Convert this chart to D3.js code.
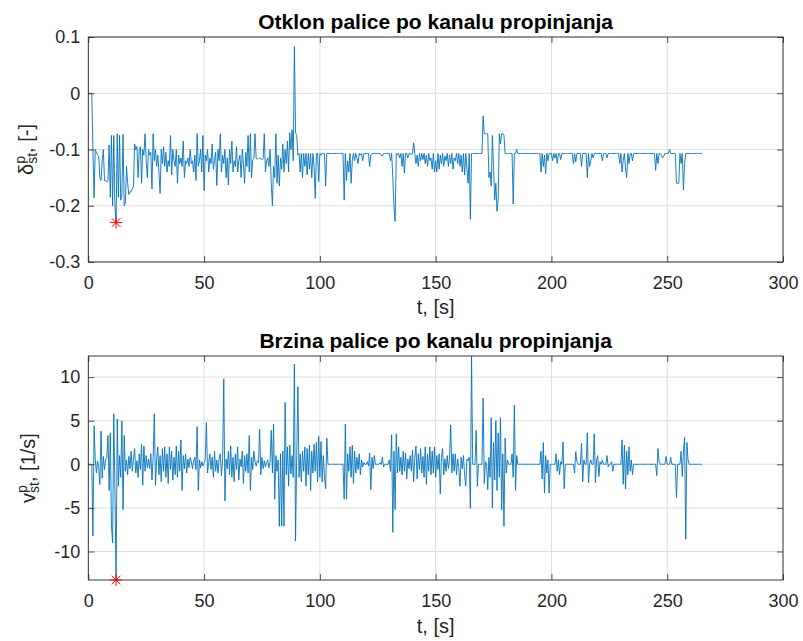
<!DOCTYPE html>
<html><head><meta charset="utf-8">
<script src="https://cdn.jsdelivr.net/npm/d3@7"></script>
<style>body{margin:0;background:#fff} svg{display:block}</style>
</head><body><svg id="c" width="803" height="641"></svg>
<script>
// ---- data (sample period 0.5 s, t = 0 ... 265 s) ----
const sampleStep = 0.5;
const deflection = [
 0,0,0,0,-0.1,-0.186,-0.1,-0.105,-0.11,-0.112,
 -0.15,-0.155,-0.12,-0.1,-0.155,-0.155,-0.158,-0.155,-0.092,-0.185,
 -0.075,-0.2,-0.075,-0.2,-0.23,-0.072,-0.185,-0.075,-0.19,-0.18,
 -0.073,-0.2,-0.195,-0.13,-0.16,-0.18,-0.175,-0.175,-0.17,-0.165,
 -0.09,-0.1,-0.095,-0.15,-0.1,-0.095,-0.16,-0.1,-0.11,-0.072,
 -0.12,-0.15,-0.1,-0.11,-0.105,-0.17,-0.072,-0.12,-0.1,-0.13,
 -0.11,-0.14,-0.178,-0.1,-0.125,-0.095,-0.13,-0.105,-0.14,-0.12,
 -0.13,-0.075,-0.145,-0.1,-0.12,-0.13,-0.1,-0.16,-0.11,-0.125,
 -0.115,-0.13,-0.085,-0.15,-0.12,-0.125,-0.115,-0.13,-0.1,-0.125,
 -0.12,-0.14,-0.11,-0.155,-0.072,-0.13,-0.12,-0.1,-0.14,-0.075,
 -0.173,-0.11,-0.12,-0.1,-0.14,-0.115,-0.125,-0.09,-0.135,-0.12,
 -0.105,-0.164,-0.1,-0.12,-0.072,-0.14,-0.11,-0.125,-0.1,-0.15,
 -0.115,-0.163,-0.1,-0.125,-0.085,-0.14,-0.12,-0.13,-0.095,-0.14,
 -0.12,-0.11,-0.15,-0.1,-0.125,-0.16,-0.105,-0.13,-0.075,-0.14,
 -0.072,-0.15,-0.118,-0.116,-0.072,-0.116,-0.117,-0.116,-0.115,-0.116,
 -0.118,-0.116,-0.072,-0.14,-0.12,-0.115,-0.13,-0.1,-0.16,-0.2,
 -0.13,-0.15,-0.072,-0.16,-0.11,-0.165,-0.115,-0.135,-0.09,-0.14,
 -0.1,-0.125,-0.085,-0.14,-0.07,-0.1,-0.065,-0.12,0.083,-0.07,
 -0.075,-0.11,-0.107,-0.14,-0.107,-0.15,-0.107,-0.13,-0.107,-0.145,
 -0.107,-0.135,-0.107,-0.15,-0.107,-0.13,-0.187,-0.107,-0.107,-0.157,
 -0.107,-0.11,-0.107,-0.107,-0.107,-0.165,-0.107,-0.107,-0.107,-0.107,
 -0.107,-0.107,-0.107,-0.107,-0.107,-0.107,-0.107,-0.107,-0.107,-0.107,
 -0.107,-0.19,-0.107,-0.155,-0.12,-0.14,-0.107,-0.16,-0.12,-0.107,
 -0.12,-0.107,-0.115,-0.125,-0.107,-0.11,-0.107,-0.12,-0.107,-0.107,
 -0.107,-0.107,-0.107,-0.13,-0.11,-0.107,-0.107,-0.107,-0.107,-0.107,
 -0.107,-0.107,-0.107,-0.11,-0.112,-0.107,-0.107,-0.107,-0.107,-0.107,
 -0.107,-0.12,-0.107,-0.15,-0.2,-0.228,-0.107,-0.11,-0.107,-0.115,
 -0.107,-0.13,-0.107,-0.142,-0.107,-0.107,-0.115,-0.107,-0.107,-0.11,
 -0.107,-0.088,-0.107,-0.125,-0.11,-0.13,-0.107,-0.12,-0.107,-0.118,
 -0.107,-0.125,-0.11,-0.13,-0.107,-0.12,-0.115,-0.135,-0.107,-0.14,
 -0.12,-0.14,-0.107,-0.135,-0.11,-0.125,-0.107,-0.13,-0.112,-0.12,
 -0.107,-0.13,-0.11,-0.125,-0.107,-0.135,-0.115,-0.12,-0.107,-0.125,
 -0.107,-0.13,-0.11,-0.14,-0.107,-0.145,-0.107,-0.135,-0.16,-0.107,
 -0.224,-0.107,-0.107,-0.107,-0.107,-0.107,-0.107,-0.107,-0.107,-0.107,
 -0.107,-0.04,-0.072,-0.072,-0.072,-0.072,-0.15,-0.14,-0.165,-0.075,
 -0.13,-0.19,-0.16,-0.21,-0.19,-0.072,-0.09,-0.072,-0.072,-0.075,
 -0.107,-0.107,-0.107,-0.107,-0.107,-0.107,-0.107,-0.197,-0.107,-0.107,
 -0.1,-0.107,-0.107,-0.107,-0.107,-0.107,-0.107,-0.107,-0.107,-0.107,
 -0.107,-0.107,-0.107,-0.107,-0.107,-0.107,-0.107,-0.107,-0.107,-0.107,
 -0.107,-0.14,-0.107,-0.13,-0.11,-0.143,-0.107,-0.12,-0.107,-0.107,
 -0.107,-0.12,-0.107,-0.115,-0.107,-0.125,-0.107,-0.107,-0.118,-0.107,
 -0.107,-0.107,-0.107,-0.107,-0.107,-0.107,-0.107,-0.107,-0.107,-0.125,
 -0.107,-0.122,-0.107,-0.107,-0.107,-0.107,-0.13,-0.107,-0.107,-0.107,
 -0.107,-0.15,-0.107,-0.13,-0.12,-0.107,-0.115,-0.107,-0.107,-0.107,
 -0.107,-0.107,-0.107,-0.107,-0.12,-0.107,-0.107,-0.107,-0.115,-0.107,
 -0.107,-0.107,-0.107,-0.107,-0.107,-0.107,-0.107,-0.107,-0.107,-0.125,
 -0.107,-0.14,-0.12,-0.107,-0.135,-0.15,-0.107,-0.125,-0.107,-0.107,
 -0.12,-0.107,-0.107,-0.107,-0.107,-0.107,-0.107,-0.107,-0.107,-0.107,
 -0.107,-0.107,-0.107,-0.107,-0.107,-0.107,-0.107,-0.107,-0.107,-0.107,
 -0.137,-0.107,-0.125,-0.107,-0.107,-0.11,-0.115,-0.112,-0.107,-0.107,
 -0.107,-0.107,-0.1,-0.107,-0.107,-0.107,-0.107,-0.107,-0.16,-0.16,
 -0.16,-0.107,-0.125,-0.107,-0.172,-0.125,-0.107,-0.107,-0.107,-0.107,
 -0.107,-0.107,-0.107,-0.107,-0.107,-0.107,-0.107,-0.107,-0.107,-0.107,
 -0.107
];
const rate = [
 0,0,0,0,-8.2,4.4,0.6,-1.0,0.4,-0.5,
 -2.3,3.8,-1.6,0.9,-0.6,0.5,0.8,3.3,-3.0,3.6,
 -7.1,-9.0,5.8,-3.0,-13.27,5.2,-2.5,1.0,-1.5,5.0,
 -5.2,3.3,-0.8,0.5,-1.2,0.9,-0.5,1.5,-0.8,0.6,
 1.8,-1.0,0.4,-1.5,1.2,-0.6,2.3,-2.4,2.1,-0.8,
 1.0,-0.4,0.6,-0.5,1.2,-1.8,0.8,5.8,-2.4,0.5,
 2.0,-1.2,1.0,-2.0,1.8,-0.8,2.0,-1.5,1.2,-2.2,
 2.0,-0.6,1.5,-1.8,0.8,-1.2,2.1,-1.5,1.5,-0.8,
 2.8,-3.0,1.0,-0.5,1.2,-1.0,0.6,-0.4,0.8,0.3,
 -0.5,0.4,0.8,-0.6,4.3,-3.0,0.5,-0.4,0.3,-0.2,
 0.2,0.5,4.8,-1.0,0.2,1.2,-0.6,0.8,-1.5,1.5,
 -0.8,0.5,-1.0,0.7,1.2,-1.3,0.5,9.8,-4.2,0.6,
 -0.5,1.5,-1.2,2.1,-1.5,0.8,-2.0,1.2,-0.6,2.0,
 -1.8,0.6,-0.3,1.5,-2.2,1.0,-0.8,1.2,-1.0,3.3,
 -3.0,0.8,-0.6,1.5,0.3,-0.2,0.4,0.2,4.0,-1.2,
 0.8,-0.5,0.4,-0.3,0.2,0.5,-0.4,0.3,3.9,-1.0,
 4.6,-4.0,1.0,-0.8,0.5,-7.1,1.2,-7.1,1.5,-7.1,
 7.1,-1.2,2.0,-2.5,2.2,-1.1,1.0,-1.5,11.5,-8.8,
 1.0,8.9,-1.5,1.2,-2.0,1.5,-0.8,2.0,-2.5,1.8,
 -1.2,2.2,-3.0,1.5,-1.0,2.3,-0.8,2.5,-2.0,3.2,
 -1.5,2.6,-2.0,1.0,-1.5,-2.8,3.0,0,0,0,
 0,0,0,0,0,0,0,0,0,0,
 0,-4.0,4.6,-4.0,1.2,-0.8,2.0,-1.5,2.2,-2.2,
 1.5,-1.0,0.8,-0.6,1.2,-1.2,0.5,-0.3,0.2,0,
 0,0.3,-0.2,1.3,-2.9,0.8,-0.5,1.0,0,0,
 0,0,0.2,0,0.8,-0.3,0,0,0,0,
 0.5,-0.8,3.4,-7.8,1.5,-5.2,3.5,-1.0,2.0,-0.8,
 0.8,-1.2,1.5,-0.8,1.3,-1.7,0.6,-0.5,1.0,-0.8,
 1.6,-2.0,0.8,2.1,-1.7,1.2,-0.6,1.8,-1.0,0.9,
 -1.5,2.0,-2.3,1.2,-0.8,2.0,-1.2,1.5,-1.0,2.0,
 -1.5,1.0,-0.6,1.2,-3.4,0.8,1.8,-1.2,0.6,-0.8,
 1.0,-0.5,0.6,4.5,-1.0,1.2,-0.8,1.2,-1.2,0.6,
 -0.4,-2.5,0.8,-0.5,1.0,-1.2,-2.5,0.6,0.4,0.8,
 -5.05,12.42,0,0,0,3.9,-2.5,0,0,0,
 0,7.6,-2.2,0.3,0,-2.9,0.8,-1.5,5.35,-5.0,
 2.5,-1.8,5.0,-3.0,3.6,-1.5,5.35,-5.2,1.2,-7.1,
 3.0,-1.0,0.5,0,0,0,1.2,-1.5,6.8,-3.0,
 1.0,0,0,0,0,0,0,0,0,0,
 0,0,0,0,0,0,0,0,0,0,
 0,1.5,-1.7,2.5,-3.3,1.0,-1.0,0.5,-3.3,0,
 0,0,0,0,1.2,-0.8,0.5,-1.2,0.3,0,
 2.55,-2.8,0,0,0,0,0,0,0,0,
 -1.0,1.45,0.3,0,0,0,2.4,-2.0,0.5,0,
 0,3.6,-2.1,0,0.5,0,0,3.5,-2.1,0.5,
 1.0,-1.4,0.3,0,0.5,0,0,0,1.0,-0.3,
 0,0,0.3,-0.8,0,0,0,0,0,0,
 0,2.8,-2.3,2.2,-2.8,1.5,-1.2,2.0,-0.8,0.5,
 -1.2,0,0,0,0,0,0,0,0,0,
 0,0,0,0,0,0,0,0,0,0,
 0,-1.3,1.8,0.3,0,0,0,0,0,0.9,
 0,0,0,0.8,0,0,0,0,-3.8,0,
 0,0,1.5,-1.4,1.4,3.1,-8.6,2.5,0.5,0,
 0,0,0,0,0,0,0,0,0,0,
 0
];
const xDomain = [0, 300];
const xTicks = [0, 50, 100, 150, 200, 250, 300];
const xTickLabels = ['0', '50', '100', '150', '200', '250', '300'];
const yTicksTop = [-0.3, -0.2, -0.1, 0, 0.1];
const yTickLabelsTop = ['-0.3', '-0.2', '-0.1', '0', '0.1'];
const yTicksBottom = [-10, -5, 0, 5, 10];
const yTickLabelsBottom = ['-10', '-5', '0', '5', '10'];
const titles = ['Otklon palice po kanalu propinjanja', 'Brzina palice po kanalu propinjanja'];
const xLabel = 't, [s]';

// ---- drawing ----
const FONT = '"Liberation Sans", Arial, Helvetica, sans-serif';
const INK = '#262626';
const svg = d3.select('#c');
const L = 88.3, R = 783;
const TICK_FS = 18, LABEL_FS = 20, TITLE_FS = 21;

const panels = [
  {series: deflection, yDomain: [-0.3, 0.1], yTicks: yTicksTop, yLabels: yTickLabelsTop,
   top: 37, bottom: 262, title: titles[0], titleY: 29, xLabelY: 314,
   yl: {cx: 33, main: 'δ', sup: 'p', sub: 'st', rest: ', [-]'}},
  {series: rate, yDomain: d3.extent(rate), yTicks: yTicksBottom, yLabels: yTickLabelsBottom,
   top: 356, bottom: 580, title: titles[1], titleY: 347.5, xLabelY: 633,
   yl: {cx: 35, main: 'v', sup: 'p', sub: 'st', rest: ', [1/s]'}}
];

panels.forEach((p, k) => {
  const x = d3.scaleLinear().domain(xDomain).range([L, R]);
  const y = d3.scaleLinear().domain(p.yDomain).range([p.bottom, p.top]);
  const g = svg.append('g');

  // grid
  g.append('g').selectAll('line').data(xTicks).join('line')
    .attr('x1', d => x(d)).attr('x2', d => x(d)).attr('y1', p.top).attr('y2', p.bottom)
    .attr('stroke', '#dedede').attr('stroke-width', 1);
  g.append('g').selectAll('line').data(p.yTicks).join('line')
    .attr('x1', L).attr('x2', R).attr('y1', d => y(d)).attr('y2', d => y(d))
    .attr('stroke', '#dedede').attr('stroke-width', 1);

  // data line
  const clipId = 'clip' + k;
  svg.append('clipPath').attr('id', clipId).append('rect')
    .attr('x', L).attr('y', p.top).attr('width', R - L).attr('height', p.bottom - p.top);
  const line = d3.line().x((d, i) => x(i * sampleStep)).y(d => y(d));
  g.append('path').datum(p.series).attr('d', line)
    .attr('fill', 'none').attr('stroke', '#0072BD').attr('stroke-width', 0.9)
    .attr('stroke-linejoin', 'round').attr('clip-path', `url(#${clipId})`);

  // axes (ticks inward on all four sides)
  const style = sel => {
    sel.select('.domain').remove();
    sel.selectAll('line').attr('stroke', INK).attr('stroke-width', 0.8);
    sel.selectAll('text').attr('fill', INK).attr('font-family', FONT).attr('font-size', TICK_FS);
  };
  g.append('g').attr('transform', `translate(0,${p.bottom})`)
    .call(d3.axisBottom(x).tickValues(xTicks).tickFormat((d, i) => xTickLabels[i])
      .tickSizeInner(-6).tickSizeOuter(0).tickPadding(14)).call(style);
  g.append('g').attr('transform', `translate(0,${p.top})`)
    .call(d3.axisTop(x).tickValues(xTicks).tickFormat('').tickSizeInner(-6).tickSizeOuter(0)).call(style);
  g.append('g').attr('transform', `translate(${L},0)`)
    .call(d3.axisLeft(y).tickValues(p.yTicks).tickFormat((d, i) => p.yLabels[i])
      .tickSizeInner(-6).tickSizeOuter(0).tickPadding(8)).call(style);
  g.append('g').attr('transform', `translate(${R},0)`)
    .call(d3.axisRight(y).tickValues(p.yTicks).tickFormat('').tickSizeInner(-6).tickSizeOuter(0)).call(style);

  // box
  g.append('rect').attr('x', L).attr('y', p.top).attr('width', R - L).attr('height', p.bottom - p.top)
    .attr('fill', 'none').attr('stroke', INK).attr('stroke-width', 0.9);

  // title
  svg.append('text').attr('x', (L + R) / 2).attr('y', p.titleY).attr('text-anchor', 'middle')
    .attr('font-family', FONT).attr('font-weight', 'bold').attr('font-size', TITLE_FS).attr('fill', '#000')
    .text(p.title);

  // x label
  svg.append('text').attr('x', (L + R) / 2).attr('y', p.xLabelY).attr('text-anchor', 'middle')
    .attr('font-family', FONT).attr('font-size', LABEL_FS).attr('fill', INK).text(xLabel);

  // y label with super/subscript
  const cy = (p.top + p.bottom) / 2;
  const grp = svg.append('g').attr('transform', `translate(${p.yl.cx},${cy}) rotate(-90)`);
  const t = grp.append('text').attr('font-family', FONT).attr('font-size', LABEL_FS).attr('fill', INK);
  t.append('tspan').text(p.yl.main);
  const s1 = t.append('tspan').attr('font-size', 14).attr('dy', -8).text(p.yl.sup);
  const w1 = s1.node().getComputedTextLength();
  t.append('tspan').attr('font-size', 14).attr('dx', -w1).attr('dy', 12).text(p.yl.sub);
  t.append('tspan').attr('dy', -4).text(p.yl.rest);
  const bb = t.node().getBBox();
  t.attr('x', -bb.x - bb.width / 2);

  // marker at the minimum of the series
  const iMin = d3.minIndex(p.series);
  const mx = x(iMin * sampleStep), my = y(p.series[iMin]);
  const r = 6, q = 4.3;
  svg.append('path')
    .attr('d', `M${mx - r},${my}L${mx + r},${my}M${mx},${my - r}L${mx},${my + r}M${mx - q},${my - q}L${mx + q},${my + q}M${mx - q},${my + q}L${mx + q},${my - q}`)
    .attr('stroke', '#ff0000').attr('stroke-width', 1).attr('fill', 'none');
});
</script>
</body></html>
